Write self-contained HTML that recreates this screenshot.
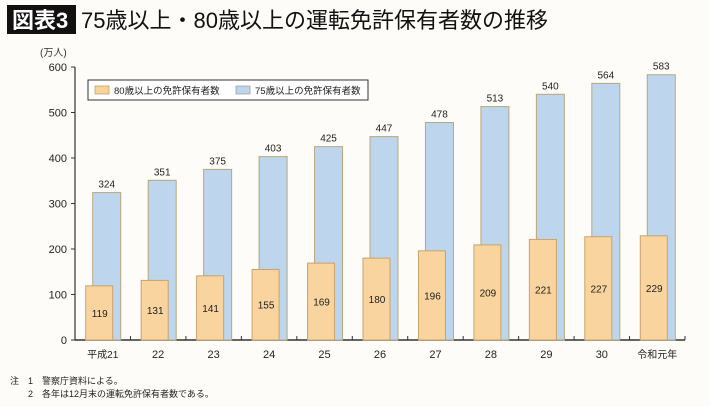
<!DOCTYPE html>
<html><head><meta charset="utf-8"><style>
body{margin:0;width:710px;height:402px;background:#fdfcf8;overflow:hidden;font-family:"Liberation Sans","Noto Sans CJK JP",sans-serif;}
svg text{font-family:"Liberation Sans","Noto Sans CJK JP",sans-serif;}
</style></head><body>
<svg width="710" height="402">
<rect x="0" y="0" width="710" height="402" fill="#fdfcf8"/>
<rect x="7" y="5" width="69" height="29" fill="#111"/>
<text x="12" y="28" font-size="22" font-weight="bold" fill="#fff">図表3</text>
<text x="81" y="28" font-size="22" fill="#111">75歳以上・80歳以上の運転免許保有者数の推移</text>
<text x="40" y="56" font-size="10" fill="#333">(万人)</text>
<g id="axes"></g>
<g id="bars"></g>
<g>
<rect x="88" y="80" width="280" height="20" fill="#fff" stroke="#333" stroke-width="1"/>
<rect x="95" y="86" width="14" height="8" fill="#f8d39c" stroke="#b89a5c" stroke-width="0.7"/>
<text x="114" y="94" font-size="9.5" fill="#222">80歳以上の免許保有者数</text>
<rect x="236" y="86" width="14" height="8" fill="#bdd6ee" stroke="#999" stroke-width="0.7"/>
<text x="255" y="94" font-size="9.5" fill="#222">75歳以上の免許保有者数</text>
</g>
<text x="10" y="384" font-size="9" fill="#222">注　1　警察庁資料による。</text>
<text x="10" y="397" font-size="9" fill="#222">　　2　各年は12月末の運転免許保有者数である。</text>
</svg>
<script>
const categories=["平成21","22","23","24","25","26","27","28","29","30","令和元年"];
const over75=[324,351,375,403,425,447,478,513,540,564,583];
const over80=[119,131,141,155,169,180,196,209,221,227,229];
const yTicks=[0,100,200,300,400,500,600];
const NS="http://www.w3.org/2000/svg";
const x0=75,x1=685,yBase=340,yTop=67,yMax=600;
const step=(x1-x0)/categories.length;
const y=v=>yBase-(yBase-yTop)*v/yMax;
const cx=i=>x0+step*(i+0.5);
function mk(t,a,p){const e=document.createElementNS(NS,t);for(const k in a)e.setAttribute(k,a[k]);p.appendChild(e);return e;}
const ax=document.getElementById('axes'),bg=document.getElementById('bars');
const yl=mk('line',{x1:x0,y1:y(yMax),x2:x0,y2:yBase,stroke:'#333','stroke-width':1.2},ax);


const xl=mk('line',{x1:x0,y1:yBase,x2:x1,y2:yBase,stroke:'#333','stroke-width':1.5},ax);


yTicks.forEach(v=>{
 const tk=mk('line',{x1:x0-4,y1:y(v),x2:x0,y2:y(v),stroke:'#333'},ax);
 
 
 const t=mk('text',{x:x0-8,y:y(v)+4,'font-size':11,'text-anchor':'end',fill:'#222'},ax);
 t.textContent=v;
 
 
});
categories.forEach((c,i)=>{
 const bx=x0+step*(i+1);
 const tk=mk('line',{x1:bx,y1:yBase-4,x2:bx,y2:yBase,stroke:'#333'},ax);
 
 
 const t=mk('text',{x:cx(i),y:yBase+18,'font-size':i==0||i==10?10:11,'text-anchor':'middle',fill:'#222'},ax);
 t.textContent=c;
 
 
 const b=mk('rect',{x:cx(i)-10,y:y(over75[i]),width:28,height:yBase-y(over75[i]),fill:'#bdd6ee',stroke:'#b8a77c','stroke-width':1},bg);
 
 
 const lb=mk('text',{x:cx(i)+4,y:y(over75[i])-5,'font-size':10,'text-anchor':'middle',fill:'#222'},bg);
 lb.textContent=over75[i];
 
 
 const o=mk('rect',{x:cx(i)-17,y:y(over80[i]),width:27,height:yBase-y(over80[i]),fill:'#f9d49e',stroke:'#c9a36a','stroke-width':1},bg);
 
 
 const lo=mk('text',{x:cx(i)-3,y:(y(over80[i])+yBase)/2+4,'font-size':10,'text-anchor':'middle',fill:'#222'},bg);
 lo.textContent=over80[i];
 
 
});
</script>
</body></html>
